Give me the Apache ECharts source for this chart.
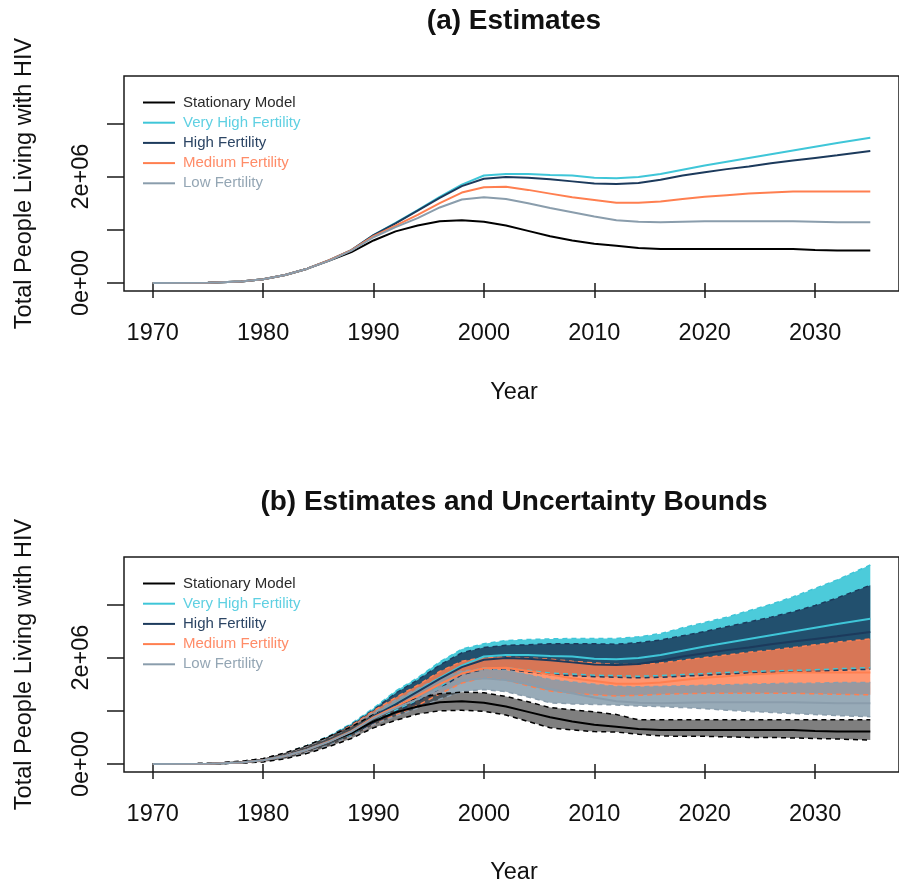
<!DOCTYPE html>
<html>
<head>
<meta charset="utf-8">
<title>Total People Living with HIV</title>
<script src="https://cdn.jsdelivr.net/npm/echarts@6/dist/echarts.min.js"></script>
<style>
  html, body { margin: 0; padding: 0; background: #fff; }
  #chart { width: 899px; height: 892px; }
</style>
</head>
<body>
<div id="chart"></div>
<script>
// Projection years
var years = [1970, 1975, 1978, 1980, 1982, 1984, 1986, 1988, 1990, 1992, 1994, 1996, 1998,
             2000, 2002, 2004, 2006, 2008, 2010, 2012, 2014, 2016, 2018, 2020, 2022, 2024,
             2026, 2028, 2030, 2032, 2035];

// Point estimates, millions of people living with HIV
var stationaryMean = [0, 0.005, 0.03, 0.07, 0.15, 0.27, 0.42, 0.58, 0.80, 0.97, 1.08, 1.16, 1.18,
                      1.15, 1.08, 0.98, 0.88, 0.80, 0.74, 0.70, 0.66, 0.64, 0.64, 0.64, 0.64, 0.64,
                      0.64, 0.64, 0.62, 0.61, 0.61];
var veryHighMean   = [0, 0.005, 0.03, 0.07, 0.15, 0.27, 0.43, 0.62, 0.90, 1.13, 1.37, 1.62, 1.85,
                      2.02, 2.05, 2.05, 2.03, 2.02, 1.98, 1.97, 1.99, 2.05, 2.13, 2.21, 2.28, 2.35,
                      2.42, 2.49, 2.56, 2.63, 2.73];
var highMean       = [0, 0.005, 0.03, 0.07, 0.15, 0.27, 0.43, 0.62, 0.90, 1.12, 1.36, 1.60, 1.82,
                      1.96, 1.99, 1.98, 1.95, 1.91, 1.87, 1.86, 1.88, 1.94, 2.02, 2.08, 2.14, 2.19,
                      2.25, 2.30, 2.35, 2.40, 2.48];
var mediumMean     = [0, 0.005, 0.03, 0.07, 0.15, 0.27, 0.43, 0.62, 0.88, 1.08, 1.28, 1.50, 1.70,
                      1.80, 1.81, 1.75, 1.68, 1.61, 1.56, 1.51, 1.51, 1.53, 1.58, 1.62, 1.65, 1.68,
                      1.70, 1.72, 1.72, 1.72, 1.72];
var lowMean        = [0, 0.005, 0.03, 0.07, 0.15, 0.27, 0.42, 0.61, 0.86, 1.05, 1.22, 1.42, 1.57,
                      1.61, 1.58, 1.50, 1.41, 1.33, 1.25, 1.18, 1.15, 1.14, 1.15, 1.16, 1.16, 1.16,
                      1.16, 1.16, 1.15, 1.14, 1.14];

// Uncertainty bounds, millions
var stationaryLow  = [0, 0, 0.02, 0.04, 0.10, 0.20, 0.33, 0.48, 0.68, 0.82, 0.94, 1.00, 1.01,
                      0.99, 0.92, 0.80, 0.68, 0.64, 0.61, 0.60, 0.56, 0.53, 0.52, 0.52, 0.51, 0.50,
                      0.50, 0.49, 0.48, 0.47, 0.45];
var stationaryHigh = [0, 0.01, 0.05, 0.10, 0.21, 0.35, 0.52, 0.70, 0.93, 1.10, 1.24, 1.32, 1.35,
                      1.34, 1.27, 1.17, 1.06, 1.02, 0.98, 0.93, 0.83, 0.83, 0.83, 0.83, 0.83, 0.83,
                      0.83, 0.83, 0.83, 0.83, 0.83];
var veryHighLow    = [0, 0, 0.02, 0.05, 0.12, 0.22, 0.36, 0.54, 0.80, 1.01, 1.20, 1.45, 1.71,
                      1.81, 1.81, 1.76, 1.71, 1.69, 1.67, 1.66, 1.65, 1.66, 1.68, 1.70, 1.72, 1.74,
                      1.75, 1.76, 1.77, 1.79, 1.81];
var veryHighHigh   = [0, 0.01, 0.05, 0.10, 0.20, 0.35, 0.53, 0.76, 1.05, 1.37, 1.62, 1.92, 2.16,
                      2.26, 2.32, 2.34, 2.35, 2.36, 2.36, 2.36, 2.39, 2.45, 2.56, 2.66, 2.76, 2.88,
                      3.00, 3.14, 3.30, 3.46, 3.74];
var highLow        = [0, 0, 0.02, 0.05, 0.12, 0.22, 0.36, 0.53, 0.78, 0.98, 1.17, 1.42, 1.68,
                      1.78, 1.78, 1.73, 1.68, 1.66, 1.64, 1.63, 1.62, 1.63, 1.65, 1.67, 1.69, 1.71,
                      1.72, 1.73, 1.74, 1.76, 1.78];
var highHigh       = [0, 0.01, 0.05, 0.10, 0.20, 0.34, 0.52, 0.74, 1.02, 1.33, 1.58, 1.86, 2.09,
                      2.19, 2.23, 2.24, 2.26, 2.26, 2.26, 2.25, 2.28, 2.33, 2.41, 2.49, 2.58, 2.67,
                      2.76, 2.86, 2.98, 3.12, 3.36];
var mediumLow      = [0, 0, 0.02, 0.05, 0.12, 0.22, 0.35, 0.52, 0.74, 0.92, 1.10, 1.32, 1.52,
                      1.62, 1.58, 1.47, 1.37, 1.33, 1.30, 1.28, 1.29, 1.31, 1.32, 1.33, 1.33, 1.33,
                      1.33, 1.33, 1.32, 1.31, 1.30];
var mediumHigh     = [0, 0.01, 0.05, 0.10, 0.20, 0.34, 0.51, 0.72, 1.00, 1.25, 1.48, 1.74, 1.93,
                      2.00, 2.01, 1.99, 1.97, 1.93, 1.90, 1.87, 1.87, 1.90, 1.95, 2.00, 2.05, 2.10,
                      2.14, 2.19, 2.24, 2.29, 2.35];
var lowLow         = [0, 0, 0.02, 0.05, 0.12, 0.22, 0.35, 0.52, 0.74, 0.90, 1.05, 1.22, 1.36,
                      1.40, 1.36, 1.26, 1.15, 1.13, 1.12, 1.11, 1.09, 1.08, 1.06, 1.04, 1.01, 0.99,
                      0.97, 0.95, 0.93, 0.91, 0.89];
var lowHigh        = [0, 0.01, 0.05, 0.10, 0.20, 0.34, 0.50, 0.70, 0.97, 1.20, 1.42, 1.62, 1.75,
                      1.78, 1.76, 1.68, 1.59, 1.54, 1.50, 1.46, 1.45, 1.46, 1.47, 1.48, 1.49, 1.50,
                      1.51, 1.52, 1.52, 1.53, 1.53];

// Axis ticks and labels
var xTicks = [1970, 1980, 1990, 2000, 2010, 2020, 2030];
var yTicks = [0, 1, 2, 3];
var yLabelValues = [0, 2];
var yLabelTexts = ['0e+00', '2e+06'];

var FONT = '"Liberation Sans", Arial, Helvetica, sans-serif';
var AXIS_COLOR = '#1a1a1a';

var scenarios = [
  { name: 'Stationary Model',    mean: stationaryMean, lo: stationaryLow, hi: stationaryHigh,
    line: '#000000', text: '#2a2a2a', band: '#000000', bandOpacity: 0.5 },
  { name: 'Very High Fertility', mean: veryHighMean, lo: veryHighLow, hi: veryHighHigh,
    line: '#3fc6d8', text: '#5fd0e2', band: '#4ccbda', bandOpacity: 1 },
  { name: 'High Fertility',      mean: highMean, lo: highLow, hi: highHigh,
    line: '#1c3a5c', text: '#2c4564', band: '#22506e', bandOpacity: 1 },
  { name: 'Medium Fertility',    mean: mediumMean, lo: mediumLow, hi: mediumHigh,
    line: '#ff7f50', text: '#ff8c68', band: '#ff7f50', bandOpacity: 0.82 },
  { name: 'Low Fertility',       mean: lowMean, lo: lowLow, hi: lowHigh,
    line: '#8a9dac', text: '#94a6b4', band: '#839aaa', bandOpacity: 0.83 }
];

function pairs(arr) {
  return years.map(function (y, i) { return [y, arr[i]]; });
}

var chart = echarts.init(document.getElementById('chart'), null, { renderer: 'canvas' });

var gridTops = [76, 557];
var GRID_H = 215;

function makeX(idx) {
  return {
    type: 'value', gridIndex: idx, min: 1967.4, max: 2037.6,
    axisLine: { show: false }, splitLine: { show: false },
    axisTick: { show: true, length: 15, customValues: xTicks, lineStyle: { color: AXIS_COLOR, width: 1.5 } },
    axisLabel: {
      customValues: xTicks, margin: 31, fontSize: 23.5, color: '#111', fontFamily: FONT,
      formatter: function (v) { return String(v); }
    }
  };
}
function makeY(idx) {
  return {
    type: 'value', gridIndex: idx, min: -0.1496, max: 3.8896,
    axisLine: { show: false }, splitLine: { show: false },
    axisTick: { show: true, length: 17, customValues: yTicks, lineStyle: { color: AXIS_COLOR, width: 1.5 } },
    axisLabel: {
      customValues: yLabelValues, rotate: 90, margin: 30, fontSize: 23.5, color: '#111', fontFamily: FONT,
      formatter: function (v) {
        var k = yLabelValues.indexOf(v);
        return k >= 0 ? yLabelTexts[k] : '';
      }
    }
  };
}

function makeLegend(top) {
  return {
    orient: 'vertical', left: 138, top: top,
    itemWidth: 32, itemHeight: 2, itemGap: 0.2,
    icon: 'rect',
    selectedMode: false,
    textStyle: { fontSize: 15, lineHeight: 20, fontFamily: FONT, padding: [0, 0, 0, 3] },
    data: scenarios.map(function (s) {
      return { name: s.name, textStyle: { color: s.text }, itemStyle: { color: s.line, borderWidth: 0 } };
    })
  };
}

// Filled band between the lower and upper bound of one scenario
function bandRenderer(color, opacity) {
  return function (params, api) {
    if (params.dataIndexInside !== 0) return null;
    var n = params.dataInsideLength;
    var upper = [], lower = [];
    for (var i = 0; i < n; i++) {
      var x = api.value(0, i);
      upper.push(api.coord([x, api.value(2, i)]));
      lower.unshift(api.coord([x, api.value(1, i)]));
    }
    return {
      type: 'polygon',
      shape: { points: upper.concat(lower) },
      style: { fill: color, opacity: opacity }
    };
  };
}

var series = [];

// Panel (a): point estimates
scenarios.forEach(function (s) {
  series.push({
    type: 'line', name: s.name, xAxisIndex: 0, yAxisIndex: 0,
    data: pairs(s.mean), symbol: 'none', silent: true,
    lineStyle: { color: s.line, width: 2 }, itemStyle: { color: s.line }
  });
});

// Panel (b): uncertainty bands, drawn from the highest scenario down
var bandOrder = [1, 2, 3, 4, 0];
bandOrder.forEach(function (k) {
  var s = scenarios[k];
  series.push({
    type: 'custom', name: s.name + ' band', xAxisIndex: 1, yAxisIndex: 1,
    data: years.map(function (y, i) { return [y, s.lo[i], s.hi[i]]; }),
    encode: { x: 0, y: [1, 2] },
    renderItem: bandRenderer(s.band, s.bandOpacity),
    silent: true, clip: true
  });
});

// Panel (b): dashed bound lines
bandOrder.forEach(function (k) {
  var s = scenarios[k];
  [s.lo, s.hi].forEach(function (arr, j) {
    series.push({
      type: 'line', name: s.name + (j ? ' upper' : ' lower') + ' bound', xAxisIndex: 1, yAxisIndex: 1,
      data: pairs(arr), symbol: 'none', silent: true,
      lineStyle: { color: s.line, width: 1.5, type: [5, 4] }
    });
  });
});

// Panel (b): point estimates on top
scenarios.forEach(function (s) {
  series.push({
    type: 'line', name: s.name, xAxisIndex: 1, yAxisIndex: 1,
    data: pairs(s.mean), symbol: 'none', silent: true,
    lineStyle: { color: s.line, width: 2 }, itemStyle: { color: s.line }
  });
});

function label(text, x, y, size, weight, rotation) {
  return {
    type: 'text', x: x, y: y, rotation: rotation || 0, silent: true,
    style: {
      text: text, fill: '#111', textAlign: 'center', textVerticalAlign: 'middle',
      font: (weight || 'normal') + ' ' + size + 'px ' + FONT
    }
  };
}

chart.setOption({
  animation: false,
  backgroundColor: '#ffffff',
  grid: gridTops.map(function (t) {
    return { left: 124, top: t, width: 780, height: GRID_H, show: true,
             borderColor: '#1a1a1a', borderWidth: 1.5, backgroundColor: 'transparent', containLabel: false };
  }),
  xAxis: [makeX(0), makeX(1)],
  yAxis: [makeY(0), makeY(1)],
  legend: [makeLegend(87.5), makeLegend(568.5)],
  series: series,
  graphic: [
    label('(a) Estimates', 514, 21, 28, 'bold'),
    label('(b) Estimates and Uncertainty Bounds', 514, 502, 28, 'bold'),
    label('Year', 514, 393, 23.5),
    label('Year', 514, 873, 23.5),
    label('Total People Living with HIV', 25, 183.5, 23.5, 'normal', Math.PI / 2),
    label('Total People Living with HIV', 25, 664.5, 23.5, 'normal', Math.PI / 2)
  ]
});
</script>
</body>
</html>
